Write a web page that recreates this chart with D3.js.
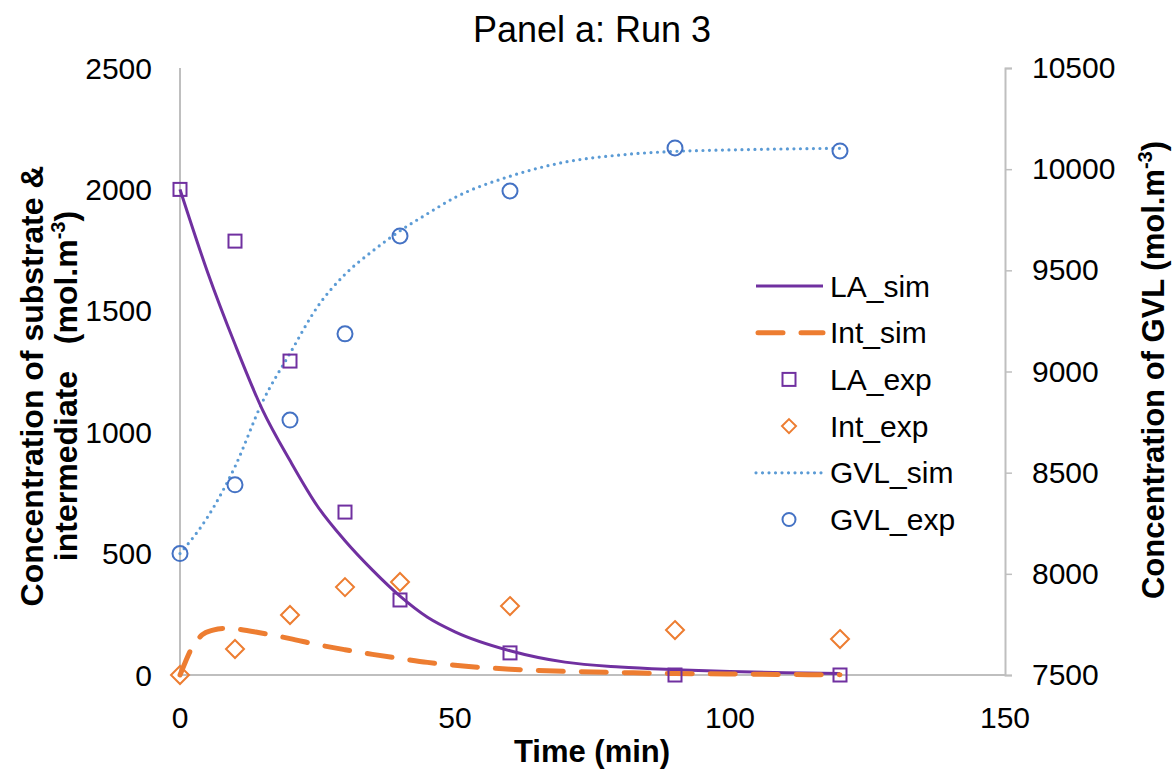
<!DOCTYPE html>
<html>
<head>
<meta charset="utf-8">
<script src="https://cdn.jsdelivr.net/npm/d3@7"></script>
<style>
  html, body { margin: 0; padding: 0; background: #fff; }
  svg text { font-family: "Liberation Sans", Arial, sans-serif; fill: #000; white-space: pre; }
</style>
</head>
<body>
<svg id="chart" width="1174" height="774"></svg>
<script>
// ---------- data ----------
const expTimes = [0, 10, 20, 30, 40, 60, 90, 120];
const laExp  = [2000, 1787, 1293, 671, 309, 91, 0, 0];
const intExp = [0, 107, 247, 362, 383, 284, 185, 148];
const gvlExp = [8100, 8440, 8760, 9186, 9670, 9892, 10105, 10090];

const laSimTimes = [0, 5, 10, 15, 20, 25, 30, 35, 40, 45, 50, 60, 70, 80, 90, 100, 110, 120];
const laSim      = [2000, 1660, 1362, 1092, 883, 695, 553, 432, 325, 238, 178, 100, 53, 33, 22, 14, 9, 6];

const intSimTimes = [0, 1, 2, 3, 4, 6, 8, 10, 15, 20, 25, 30, 35, 40, 45, 50, 60, 70, 80, 90, 100, 110, 120];
const intSim      = [0, 55, 105, 140, 165, 185, 192, 190, 172, 150, 125, 104, 85, 68, 52, 40, 24, 15, 10, 6, 4, 2, 1];

const gvlSimTimes = [0, 5, 10, 15, 20, 25, 30, 35, 40, 45, 50, 60, 70, 80, 90, 100, 110, 120];
const gvlSim      = [8100, 8280, 8530, 8850, 9090, 9320, 9480, 9595, 9695, 9780, 9860, 9965, 10035, 10070, 10088, 10095, 10100, 10103];

const xTicks = [0, 50, 100, 150];
const yLeftTicks = [0, 500, 1000, 1500, 2000, 2500];
const yRightTicks = [7500, 8000, 8500, 9000, 9500, 10000, 10500];

const legendItems = ["LA_sim", "Int_sim", "LA_exp", "Int_exp", "GVL_sim", "GVL_exp"];

// ---------- setup ----------
const svg = d3.select("#chart");
const L = 180, R = 1005, T = 68, B = 675;
const x = d3.scaleLinear().domain([0, 150]).range([L, R]);
const yL = d3.scaleLinear().domain([0, 2500]).range([B, T]);
const yR = d3.scaleLinear().domain([7500, 10500]).range([B, T]);

const AX = "#BFBFBF";
const PURPLE = "#7030A0", ORANGE = "#ED7D31", LBLUE = "#5B9BD5", BLUE = "#4472C4";
const FS = 30;
const TFS = 32;

// axes lines
svg.append("line").attr("x1", L).attr("x2", L).attr("y1", T).attr("y2", B).attr("stroke", AX).attr("stroke-width", 2);
svg.append("line").attr("x1", L).attr("x2", R).attr("y1", B).attr("y2", B).attr("stroke", AX).attr("stroke-width", 2);

// right axis with outward ticks
const rAxis = svg.append("g").attr("transform", `translate(${R},0)`)
  .call(d3.axisRight(yR).tickValues(yRightTicks).tickSize(7).tickPadding(20).tickFormat(d3.format("d")));
rAxis.select(".domain").attr("stroke", AX).attr("stroke-width", 2);
rAxis.selectAll(".tick line").attr("stroke", AX).attr("stroke-width", 1.5);
rAxis.selectAll("text").attr("font-size", FS).attr("font-family", "Liberation Sans, Arial, sans-serif").attr("fill", "#000");

// left tick labels
svg.append("g").selectAll("text").data(yLeftTicks).join("text")
  .attr("x", L - 28).attr("y", d => yL(d)).attr("dy", "0.35em")
  .attr("text-anchor", "end").attr("font-size", FS).text(d => d);

// bottom tick labels
svg.append("g").selectAll("text").data(xTicks).join("text")
  .attr("x", d => x(d)).attr("y", B + 42).attr("dy", "0.35em")
  .attr("text-anchor", "middle").attr("font-size", FS).text(d => d);

// title
svg.append("text").attr("x", 592).attr("y", 42).attr("text-anchor", "middle")
  .attr("font-size", 36).text("Panel a: Run 3");

// x title
svg.append("text").attr("x", 592).attr("y", 762).attr("text-anchor", "middle")
  .attr("font-size", 31).attr("font-weight", "bold").text("Time (min)");

// left y title (two lines)
const ly = 386;
svg.append("text").attr("transform", `translate(43,${ly}) rotate(-90)`)
  .attr("text-anchor", "middle").attr("font-size", TFS).attr("font-weight", "bold")
  .text("Concentration of substrate &");
const lt2 = svg.append("text").attr("transform", `translate(77,${ly}) rotate(-90)`)
  .attr("text-anchor", "middle").attr("font-size", TFS).attr("font-weight", "bold");
lt2.append("tspan").text("intermediate   (mol.m");
lt2.append("tspan").attr("font-size", 20).attr("dy", -12).text("-3");
lt2.append("tspan").attr("dy", 12).text(")");

// right y title
const rt = svg.append("text").attr("transform", `translate(1164,370) rotate(-90)`)
  .attr("text-anchor", "middle").attr("font-size", 31).attr("font-weight", "bold");
rt.append("tspan").text("Concentration of GVL (mol.m");
rt.append("tspan").attr("font-size", 20).attr("dy", -12).text("-3");
rt.append("tspan").attr("dy", 12).text(")");

// ---------- lines ----------
const lineL = (times) => d3.line().x((d, i) => x(times[i])).y(d => yL(d)).curve(d3.curveMonotoneX);
const lineR = (times) => d3.line().x((d, i) => x(times[i])).y(d => yR(d)).curve(d3.curveMonotoneX);

svg.append("path").datum(gvlSim).attr("d", lineR(gvlSimTimes)).attr("fill", "none")
  .attr("stroke", LBLUE).attr("stroke-width", 3.2).attr("stroke-linecap", "round").attr("stroke-dasharray", "0,6.5");

svg.append("path").datum(laSim).attr("d", lineL(laSimTimes)).attr("fill", "none")
  .attr("stroke", PURPLE).attr("stroke-width", 3);

svg.append("path").datum(intSim).attr("d", lineL(intSimTimes)).attr("fill", "none")
  .attr("stroke", ORANGE).attr("stroke-width", 5).attr("stroke-linecap", "round").attr("stroke-dasharray", "25,18");

// ---------- markers ----------
const sq = 13, dm = 9, cr = 7.5;
svg.append("g").selectAll("rect").data(laExp).join("rect")
  .attr("x", (d, i) => x(expTimes[i]) - sq / 2).attr("y", d => yL(d) - sq / 2)
  .attr("width", sq).attr("height", sq).attr("fill", "none").attr("stroke", PURPLE).attr("stroke-width", 2);

svg.append("g").selectAll("path").data(intExp).join("path")
  .attr("d", (d, i) => { const cx = x(expTimes[i]), cy = yL(d); return `M${cx},${cy - dm}L${cx + dm},${cy}L${cx},${cy + dm}L${cx - dm},${cy}Z`; })
  .attr("fill", "none").attr("stroke", ORANGE).attr("stroke-width", 2);

svg.append("g").selectAll("circle").data(gvlExp).join("circle")
  .attr("cx", (d, i) => x(expTimes[i])).attr("cy", d => yR(d)).attr("r", cr)
  .attr("fill", "none").attr("stroke", BLUE).attr("stroke-width", 2);

// ---------- legend ----------
const lgY0 = 286, lgDy = 46.7, lgX0 = 756, lgX1 = 823, lgMx = 789, lgTx = 830;
const lg = svg.append("g");
legendItems.forEach((name, i) => {
  const yy = lgY0 + i * lgDy;
  if (name === "LA_sim") {
    lg.append("line").attr("x1", lgX0).attr("x2", lgX1).attr("y1", yy).attr("y2", yy).attr("stroke", PURPLE).attr("stroke-width", 3);
  } else if (name === "Int_sim") {
    lg.append("line").attr("x1", lgX0 + 2).attr("x2", lgX1).attr("y1", yy).attr("y2", yy).attr("stroke", ORANGE)
      .attr("stroke-width", 5).attr("stroke-linecap", "round").attr("stroke-dasharray", "25,18");
  } else if (name === "GVL_sim") {
    lg.append("line").attr("x1", lgX0).attr("x2", lgX1).attr("y1", yy).attr("y2", yy).attr("stroke", LBLUE)
      .attr("stroke-width", 3.2).attr("stroke-linecap", "round").attr("stroke-dasharray", "0,6.5");
  } else if (name === "LA_exp") {
    lg.append("rect").attr("x", lgMx - 6.5).attr("y", yy - 6.5).attr("width", 13).attr("height", 13)
      .attr("fill", "none").attr("stroke", PURPLE).attr("stroke-width", 2);
  } else if (name === "Int_exp") {
    lg.append("path").attr("d", `M${lgMx},${yy - 7}L${lgMx + 7},${yy}L${lgMx},${yy + 7}L${lgMx - 7},${yy}Z`)
      .attr("fill", "none").attr("stroke", ORANGE).attr("stroke-width", 2);
  } else if (name === "GVL_exp") {
    lg.append("circle").attr("cx", lgMx).attr("cy", yy).attr("r", 6.5).attr("fill", "none").attr("stroke", BLUE).attr("stroke-width", 2);
  }
  lg.append("text").attr("x", lgTx).attr("y", yy).attr("dy", "0.35em").attr("font-size", FS).text(name);
});
</script>
</body>
</html>
